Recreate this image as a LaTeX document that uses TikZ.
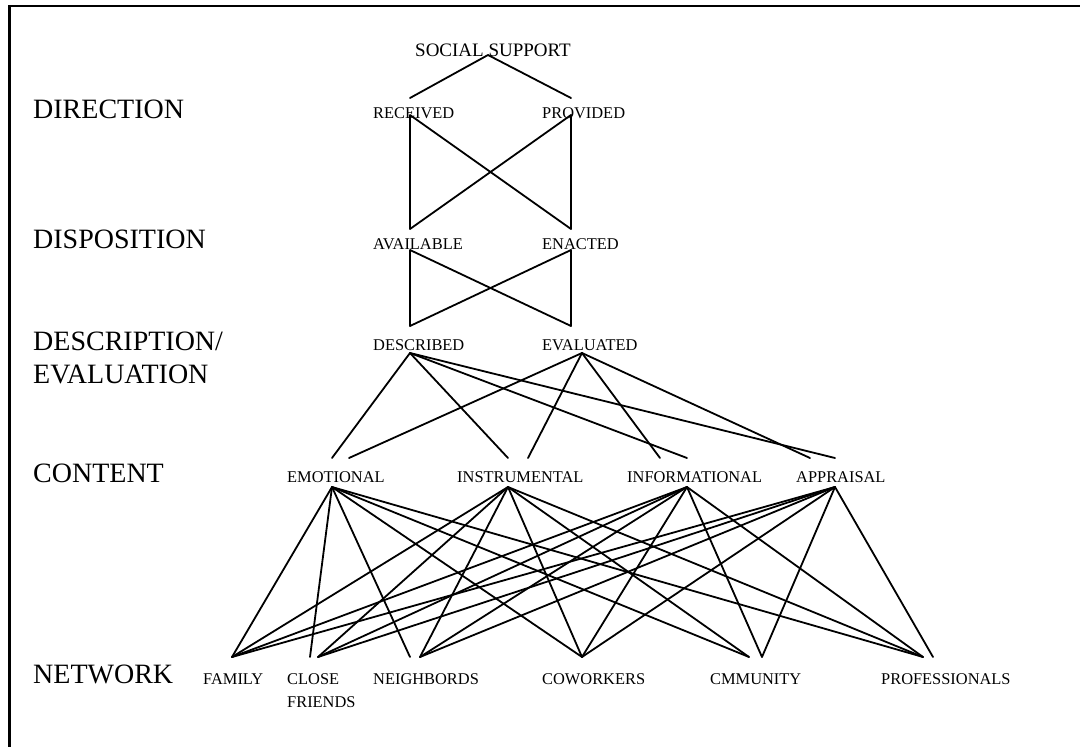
\documentclass[tikz,border=0pt]{standalone}
\usepackage{fontspec}
\setmainfont{Liberation Serif}
\begin{document}
\begin{tikzpicture}[x=1pt,y=-1pt,
  levellab/.style={anchor=base west,inner sep=0pt,font=\fontsize{28}{33}\selectfont,align=left},
  itemlab/.style={anchor=base west,inner sep=0pt,font=\fontsize{16.4}{23}\selectfont,align=left},
  rootlab/.style={anchor=base west,inner sep=0pt,font=\fontsize{19}{22}\selectfont},
  conn/.style={line width=1.8pt,line cap=round,line join=round}]
\useasboundingbox (0,0) rectangle (1080,747);

% frame edges
\draw[line width=2.3pt] (9.5,747) -- (9.5,6) -- (1080,6);

% level names (multi-line nodes sit on their last baseline)
\node[levellab] (ldir)  at (33,118) {DIRECTION};
\node[levellab] (ldisp) at (33,248) {DISPOSITION};
\node[levellab] (ldesc) at (33,383) {DESCRIPTION/\\EVALUATION};
\node[levellab] (lcont) at (33,482) {CONTENT};
\node[levellab] (lnet)  at (33,683) {NETWORK};

% items
\node[rootlab] (ss)   at (415,56)  {SOCIAL SUPPORT};
\node[itemlab] (rec)  at (373,118) {RECEIVED};
\node[itemlab] (prov) at (542,118) {PROVIDED};
\node[itemlab] (avl)  at (373,249) {AVAILABLE};
\node[itemlab] (ena)  at (542,249) {ENACTED};
\node[itemlab] (dsc)  at (373,350) {DESCRIBED};
\node[itemlab] (evl)  at (542,350) {EVALUATED};
\node[itemlab] (emo)  at (287,482) {EMOTIONAL};
\node[itemlab] (ins)  at (457,482) {INSTRUMENTAL};
\node[itemlab] (inf)  at (627,482) {INFORMATIONAL};
\node[itemlab] (app)  at (796,482) {APPRAISAL};
\node[itemlab] (fam)  at (203,684) {FAMILY};
\node[itemlab] (clf)  at (287,707) {CLOSE\\FRIENDS};
\node[itemlab] (nei)  at (373,684) {NEIGHBORDS};
\node[itemlab] (cow)  at (542,684) {COWORKERS};
\node[itemlab] (cmm)  at (710,684) {CMMUNITY};
\node[itemlab] (pro)  at (881,684) {PROFESSIONALS};

% attachment points
\coordinate (ss-b)   at (488,55);
\coordinate (rec-t)  at (410,98);
\coordinate (prov-t) at (571,98);
\coordinate (rec-b)  at (410,115);
\coordinate (prov-b) at (571,115);
\coordinate (avl-t)  at (410,229);
\coordinate (ena-t)  at (571,229);
\coordinate (avl-b)  at (410,250);
\coordinate (ena-b)  at (571,250);
\coordinate (dsc-t)  at (410,326);
\coordinate (evl-t)  at (571,326);
\coordinate (dsc-b)  at (410,353);
\coordinate (evl-b)  at (582,353);
\coordinate (emo-t1) at (332,458);
\coordinate (emo-t2) at (349,458);
\coordinate (ins-t1) at (508,458);
\coordinate (ins-t2) at (528,458);
\coordinate (inf-t1) at (660,458);
\coordinate (inf-t2) at (687,458);
\coordinate (app-t1) at (810,458);
\coordinate (app-t2) at (835,458);
\coordinate (emo-b)  at (332,487);
\coordinate (ins-b)  at (508,487);
\coordinate (inf-b)  at (687,487);
\coordinate (app-b)  at (835,487);
\coordinate (fam-t)  at (232,657);
\coordinate (clf-t1) at (310,657);
\coordinate (clf-t2) at (318,657);
\coordinate (nei-t1) at (410,657);
\coordinate (nei-t2) at (420,657);
\coordinate (cow-t)  at (582,657);
\coordinate (cmm-t1) at (749,657);
\coordinate (cmm-t2) at (762,657);
\coordinate (pro-t1) at (923,657);
\coordinate (pro-t2) at (933,657);

% direction
\draw[conn] (rec-t) -- (ss-b) -- (prov-t);
% disposition
\draw[conn] (rec-b) -- (avl-t) -- (prov-b) -- (ena-t) -- (rec-b);
% description / evaluation
\draw[conn] (avl-b) -- (dsc-t) -- (ena-b) -- (evl-t) -- (avl-b);
% content
\foreach \c in {emo-t1,ins-t1,inf-t2,app-t2} \draw[conn] (dsc-b) -- (\c);
\foreach \c in {emo-t2,ins-t2,inf-t1,app-t1} \draw[conn] (evl-b) -- (\c);
% network
\foreach \s in {emo-b,ins-b,inf-b,app-b} {
  \draw[conn] (\s) -- (fam-t);
  \draw[conn] (\s) -- (cow-t);
}
\draw[conn] (emo-b) -- (clf-t1);
\draw[conn] (emo-b) -- (nei-t1);
\foreach \s in {ins-b,inf-b,app-b} {
  \draw[conn] (\s) -- (clf-t2);
  \draw[conn] (\s) -- (nei-t2);
}
\foreach \s in {emo-b,ins-b} \draw[conn] (\s) -- (cmm-t1);
\foreach \s in {inf-b,app-b} \draw[conn] (\s) -- (cmm-t2);
\foreach \s in {emo-b,ins-b,inf-b} \draw[conn] (\s) -- (pro-t1);
\draw[conn] (app-b) -- (pro-t2);
\end{tikzpicture}
\end{document}
